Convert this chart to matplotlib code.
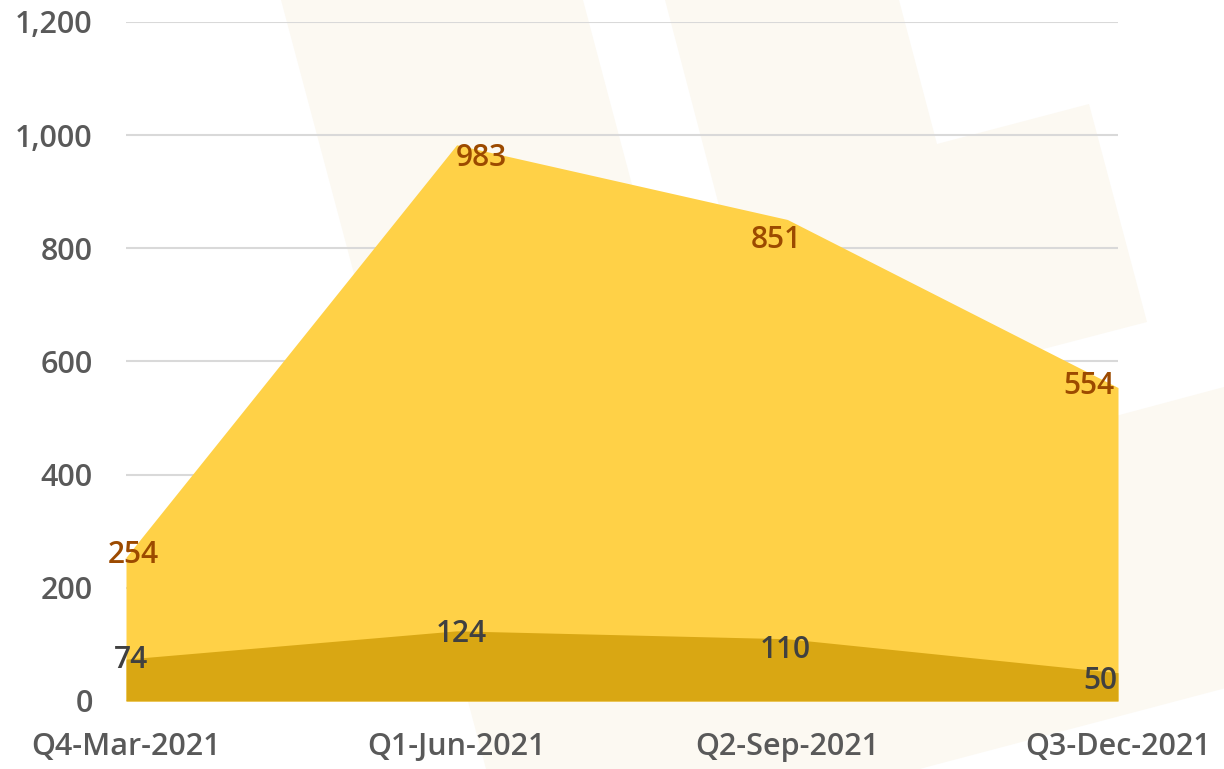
import matplotlib
matplotlib.use("Agg")
import matplotlib.pyplot as plt
from matplotlib.patches import Polygon
from matplotlib.ticker import FuncFormatter

plt.rcParams['font.family'] = ['Open Sans', 'DejaVu Sans']
plt.rcParams['font.weight'] = 'semibold'

quarters = ['Q4-Mar-2021', 'Q1-Jun-2021', 'Q2-Sep-2021', 'Q3-Dec-2021']
total = [254, 983, 851, 554]
subset = [74, 124, 110, 50]

# label nudges (pixels) so each value sits near its vertex
total_offsets = [(7, 2), (25, -13), (-11, -21), (-29, 2)]
subset_offsets = [(5, -1), (5, -3), (-2, -11), (-18, -8)]

W, H = 1224, 769
fig = plt.figure(figsize=(W / 100, H / 100), dpi=100)
fig.patch.set_facecolor('white')

# faint background shapes
shapes = [
    [(281, 0), (583, 0), (787, 769), (486, 769)],
    [(665, 0), (899, 0), (937, 144), (1089, 104), (1147, 322), (775, 419)],
    [(1224, 387), (1260, 378), (1260, 679), (927, 767), (600, 860), (600, 554)],
]
for pts in shapes:
    verts = [(x / W, 1 - y / H) for x, y in pts]
    fig.add_artist(Polygon(verts, closed=True, transform=fig.transFigure,
                           facecolor='#fcf9f2', edgecolor='none', zorder=-5))

ax = fig.add_axes([126 / W, 1 - 701 / H, (1118 - 126) / W, (701 - 22) / H])
ax.patch.set_alpha(0)

x = list(range(len(quarters)))
ax.fill_between(x, 0, total, color='#ffd147', linewidth=0, zorder=2)
ax.fill_between(x, 0, subset, color='#d9a713', linewidth=0, zorder=3)

for i, v in enumerate(total):
    dx, dy = total_offsets[i]
    ax.annotate(str(v), (i, v), xytext=(dx, dy), textcoords='offset pixels',
                ha='center', va='center', fontsize=21.5, color='#9c4a00', zorder=5)
for i, v in enumerate(subset):
    dx, dy = subset_offsets[i]
    ax.annotate(str(v), (i, v), xytext=(dx, dy), textcoords='offset pixels',
                ha='center', va='center', fontsize=21.5, color='#404040', zorder=5)

ax.set_xlim(0, 3)
ax.set_ylim(0, 1200)
ax.set_yticks(range(0, 1201, 200))
ax.yaxis.set_major_formatter(FuncFormatter(lambda v, p: f'{int(v):,}'))
ax.set_xticks(x)
ax.set_xticklabels(quarters)
ax.grid(axis='y', color='#d9d9d9', linewidth=1.5, zorder=0)
ax.set_axisbelow(True)
for s in ax.spines.values():
    s.set_visible(False)
ax.tick_params(axis='both', length=0, labelsize=22, labelcolor='#595959')
ax.tick_params(axis='y', pad=24)
ax.tick_params(axis='x', pad=22)

plt.savefig('out.png', dpi=100)
